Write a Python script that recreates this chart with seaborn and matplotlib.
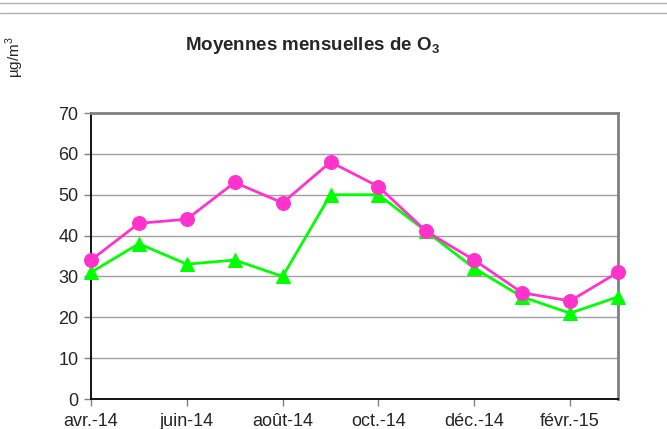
import numpy as np
import pandas as pd
import matplotlib
matplotlib.use("Agg")
import matplotlib.pyplot as plt
import seaborn as sns
from matplotlib.lines import Line2D

# Données : moyennes mensuelles O3 (µg/m3)
mois = ["avr.-14", "mai-14", "juin-14", "juil.-14", "août-14", "sept.-14",
        "oct.-14", "nov.-14", "déc.-14", "janv.-15", "févr.-15", "mars-15"]
serie_rose = [34, 43, 44, 53, 48, 58, 52, 41, 34, 26, 24, 31]
serie_verte = [31, 38, 33, 34, 30, 50, 50, 41, 32, 25, 21, 25]

df = pd.DataFrame({
    "idx": list(range(len(mois))) * 2,
    "valeur": serie_rose + serie_verte,
    "serie": ["rose"] * len(mois) + ["verte"] * len(mois),
})

sns.set_style("white")
plt.rcParams["font.family"] = ["Liberation Sans", "DejaVu Sans"]
plt.rcParams["mathtext.fontset"] = "custom"
plt.rcParams["mathtext.rm"] = "Liberation Sans"
plt.rcParams["mathtext.bf"] = "Liberation Sans:bold"

fig = plt.figure(figsize=(6.67, 4.29), dpi=100)
ax = fig.add_axes([91 / 667, 1 - 399 / 429, (618 - 91) / 667, (399 - 113) / 429])

# grille horizontale
for v in range(10, 70, 10):
    ax.axhline(v, color="#a0a0a0", lw=1, zorder=0)

sns.lineplot(data=df[df.serie == "verte"], x="idx", y="valeur", ax=ax,
             color="#00ff00", lw=2, marker="^", markersize=10,
             markeredgecolor="#00ff00", clip_on=False, zorder=3)
sns.lineplot(data=df[df.serie == "rose"], x="idx", y="valeur", ax=ax,
             color="#ff33cc", lw=2, marker="o", markersize=10,
             markeredgecolor="#ff33cc", clip_on=False, zorder=4)

ax.set_xlim(0, len(mois) - 1)
ax.set_ylim(0, 70)
ax.set_yticks(range(0, 80, 10))
ax.set_xticks(range(0, len(mois), 2))
ax.set_xticklabels(mois[::2])
ax.tick_params(axis="both", labelsize=13, length=5, width=1, color="#808080",
               direction="out", bottom=True, left=True)
ax.tick_params(axis="x", pad=5)
ax.tick_params(axis="y", pad=4)
ax.set_xlabel("")
ax.set_ylabel("")

for s in ["left", "bottom"]:
    ax.spines[s].set_color("black")
    ax.spines[s].set_linewidth(1.3)
for s in ["top", "right"]:
    ax.spines[s].set_color("#808080")
    ax.spines[s].set_linewidth(2)

fig.text(313 / 667, 1 - 45 / 429, r"Moyennes mensuelles de O$_\mathbf{3}$", ha="center",
         va="center", fontsize=13.5, fontweight="bold")
fig.text(15 / 667, 1 - 57 / 429, "µg/m$^3$", rotation=90, ha="center",
         va="center", fontsize=11)

# traits gris en haut
fig.add_artist(Line2D([0, 1], [1 - 3 / 429, 1 - 3 / 429], color="#b0b0b0", lw=1))
fig.add_artist(Line2D([0, 1], [1 - 13 / 429, 1 - 13 / 429], color="#b0b0b0", lw=1))

fig.savefig("out.png", dpi=100)
